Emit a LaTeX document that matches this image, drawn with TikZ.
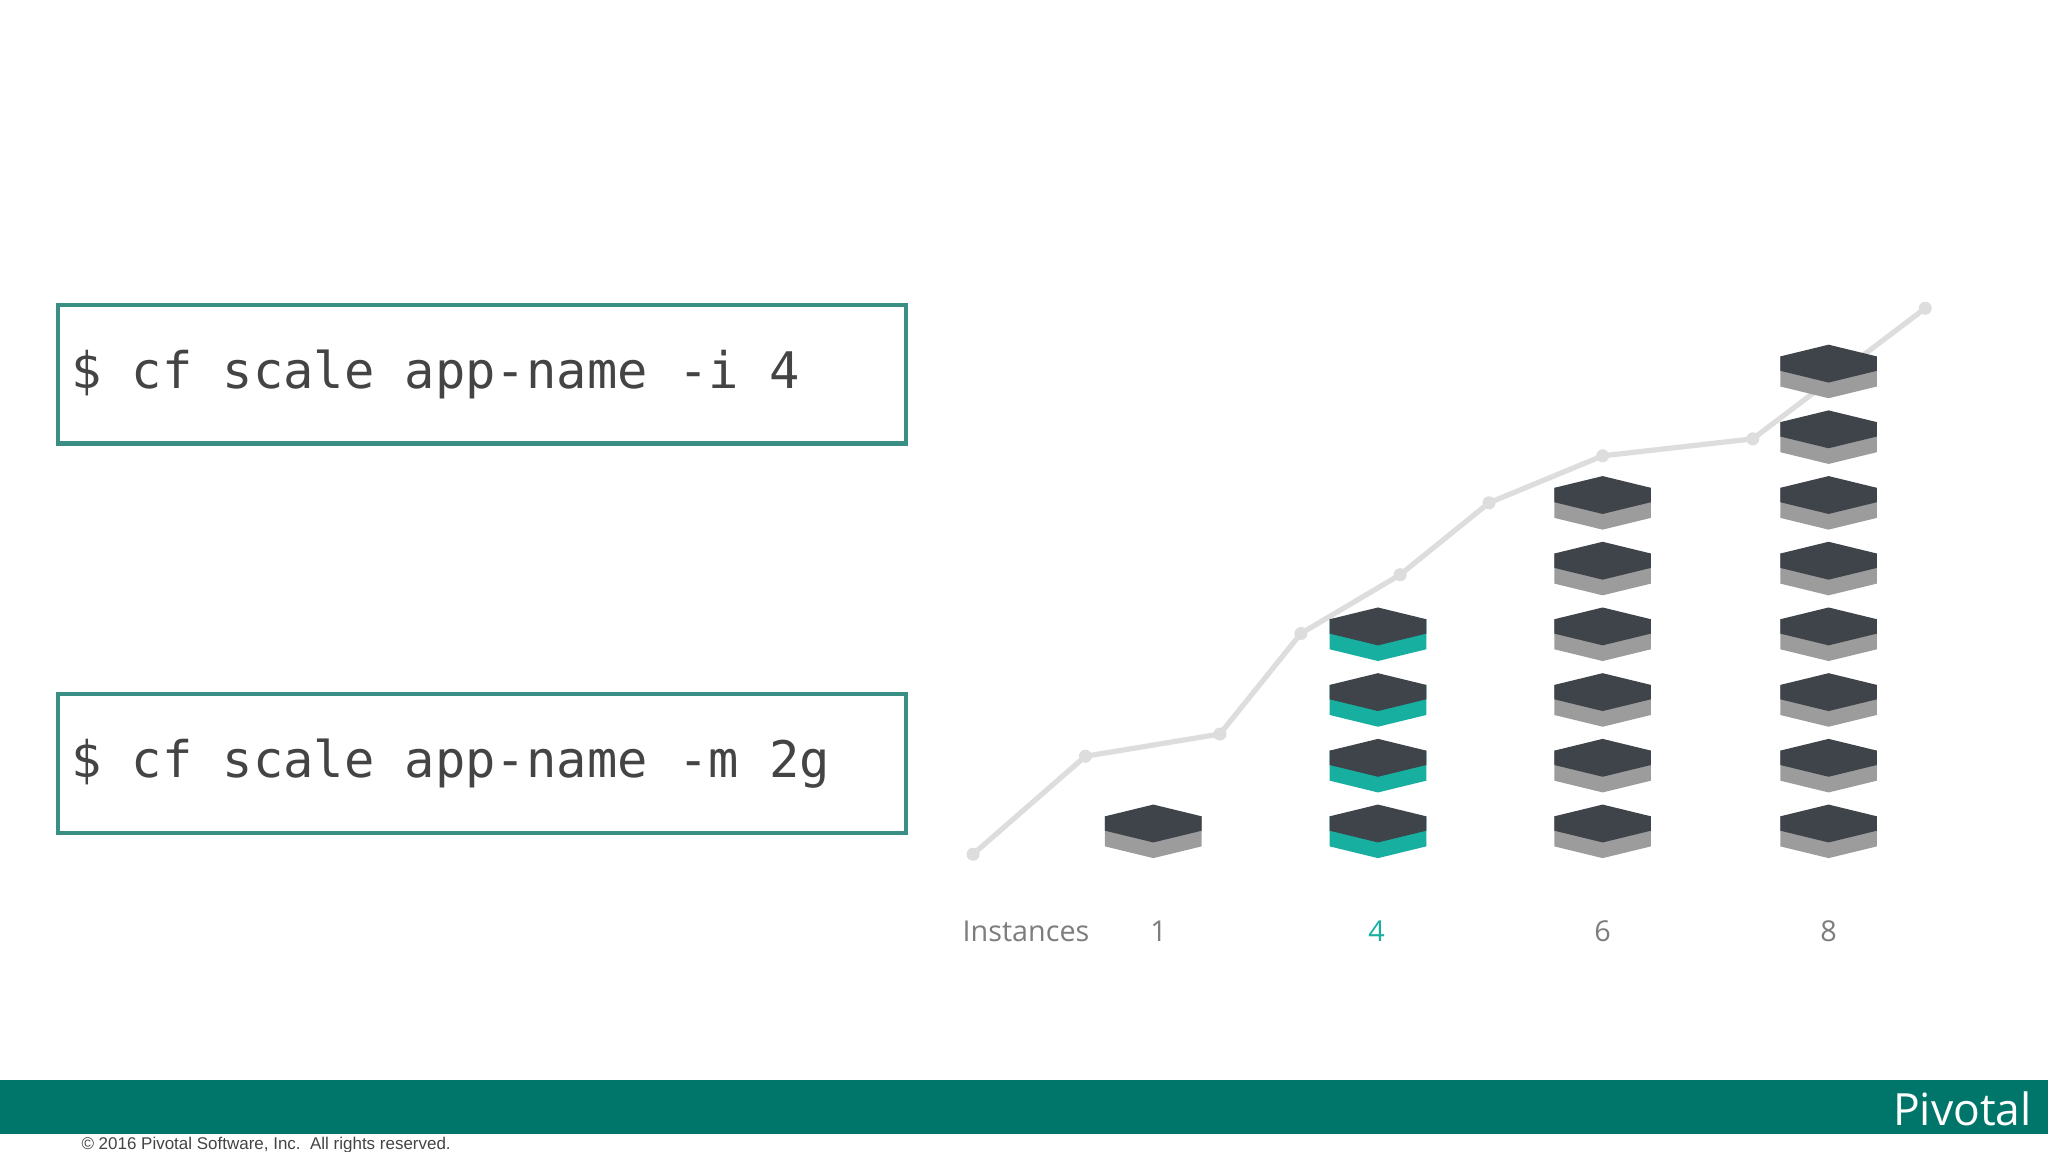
\documentclass[tikz,border=0pt]{standalone}
\usepackage{fontspec}
\setmainfont{Open Sans}
\newfontfamily\mono{DejaVu Sans Mono}
\newfontfamily\arialf{Liberation Sans}
\definecolor{teal1}{HTML}{3A8F84}
\definecolor{band}{HTML}{00766A}
\definecolor{blk}{HTML}{3F434A}
\definecolor{tealb}{HTML}{17AFA0}
\definecolor{grayb}{HTML}{9C9C9C}
\definecolor{linec}{HTML}{DDDDDD}
\definecolor{txt}{HTML}{444444}
\begin{document}
\begin{tikzpicture}[x=0.5pt,y=-0.5pt,
  cmd/.style={draw=teal1,line width=1.6pt,minimum width=324.5pt,minimum height=53pt,anchor=north west,inner sep=0pt},
  lbl/.style={text=grayb!80!black,font=\fontsize{11}{12}\selectfont}]
\useasboundingbox (0,0) rectangle (1568,882);
\fill[white] (0,0) rectangle (1568,882);
\node[cmd] (b1) at (43,232) {};
\node[anchor=west,text=txt,font=\mono\fontsize{19.3}{22}\selectfont,inner sep=0pt] (t1) at (54,287) {\$ cf scale app-name -i 4};
\node[cmd] (b2) at (43,530) {};
\node[anchor=west,text=txt,font=\mono\fontsize{19.3}{22}\selectfont,inner sep=0pt] (t2) at (54,585) {\$ cf scale app-name -m 2g};
% chart line
\draw[linec,line width=2pt,line join=round] (745,654)--(831,579)--(934,562)--(996,485)--(1072,440)--(1140,385)--(1227,349)--(1342,336)--(1474,236);
\foreach \p in {(745,654),(831,579),(934,562),(996,485),(1072,440),(1140,385),(1227,349),(1342,336),(1474,236)}
  \fill[linec] \p circle (5);
% blocks
\newcommand{\blockdraw}[3]{%
  \fill[#3] (#1-37,#2+9)--(#1-37,#2+32)--(#1,#2+41)--(#1+37,#2+32)--(#1+37,#2+9)--cycle;
  \fill[blk] (#1,#2)--(#1+37,#2+9)--(#1+37,#2+20)--(#1,#2+29)--(#1-37,#2+20)--(#1-37,#2+9)--cycle;}
\blockdraw{883}{616}{grayb}
\foreach \k in {0,...,3}{\blockdraw{1055}{616-50.3*\k}{tealb}}
\foreach \k in {0,...,5}{\blockdraw{1227}{616-50.3*\k}{grayb}}
\foreach \k in {0,...,7}{\blockdraw{1400}{616-50.3*\k}{grayb}}
\node[lbl,anchor=west] (inst) at (730,713) {Instances};
\node[lbl] (n1) at (887,713) {1};
\node[lbl,text=tealb] (n4) at (1054,713) {4};
\node[lbl] (n6) at (1227,713) {6};
\node[lbl] (n8) at (1400,713) {8};
% footer
\fill[band] (0,827) rectangle (1568,868);
\node[anchor=east,text=white,font=\fontsize{17}{18}\selectfont,inner sep=0pt] (piv) at (1556,849) {Pivotal};
\node[anchor=west,text=txt,font=\arialf\fontsize{6.5}{7}\selectfont,inner sep=0pt] (copy) at (62,877) {\textcopyright\ 2016 Pivotal Software, Inc.\ \ All rights reserved.};
\end{tikzpicture}
\end{document}
